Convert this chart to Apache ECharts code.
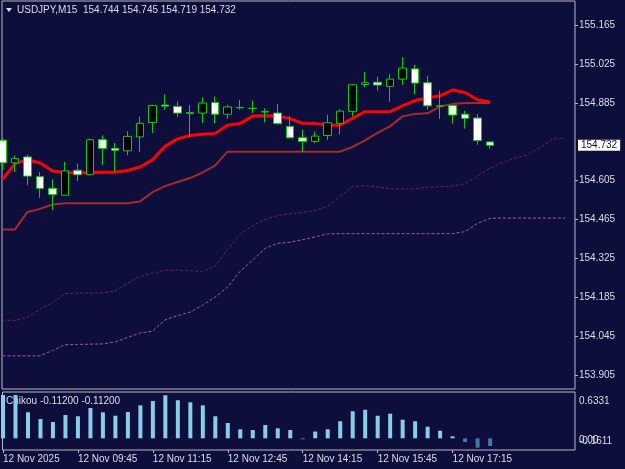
<!DOCTYPE html>
<html>
<head>
<meta charset="utf-8">
<title>USDJPY,M15</title>
<script src="https://cdn.jsdelivr.net/npm/echarts@6/dist/echarts.min.js"></script>
<style>
  html, body { margin: 0; padding: 0; background: #0e0e3c; }
  #chart { width: 625px; height: 469px; }
</style>
</head>
<body>
<div id="chart"></div>
<script>
const symbol = 'USDJPY,M15'
const timeLabels = ['12 Nov 2025', '12 Nov 09:45', '12 Nov 11:15', '12 Nov 12:45', '12 Nov 14:15', '12 Nov 15:45', '12 Nov 17:15']
const timeLabelIdx = [0, 6, 12, 18, 24, 30, 36]
const priceTicks = [153.905, 154.045, 154.185, 154.325, 154.465, 154.605, 154.885, 155.025, 155.165]

// candles, one per 15 minutes
const opens = [154.750, 154.669, 154.690, 154.619, 154.577, 154.552, 154.642, 154.626, 154.752, 154.721,
  154.712, 154.762, 154.814, 154.877, 154.872, 154.849, 154.848, 154.886, 154.844, 154.868,
  154.865, 154.853, 154.848, 154.800, 154.759, 154.746, 154.767, 154.811, 154.854, 154.951,
  154.959, 154.944, 154.970, 155.007, 154.957, 154.873, 154.875, 154.844, 154.830, 154.744]
const highs = [154.758, 154.695, 154.698, 154.636, 154.609, 154.672, 154.666, 154.756, 154.768, 154.740,
  154.783, 154.835, 154.878, 154.915, 154.890, 154.877, 154.904, 154.908, 154.878, 154.896,
  154.893, 154.865, 154.881, 154.836, 154.788, 154.781, 154.842, 154.862, 154.952, 154.996,
  154.979, 154.989, 155.049, 155.021, 154.982, 154.929, 154.876, 154.856, 154.844, 154.745]
const lows = [154.642, 154.636, 154.588, 154.543, 154.498, 154.551, 154.603, 154.623, 154.660, 154.636,
  154.696, 154.708, 154.776, 154.860, 154.834, 154.760, 154.812, 154.810, 154.827, 154.860,
  154.848, 154.814, 154.806, 154.757, 154.708, 154.740, 154.751, 154.771, 154.836, 154.941,
  154.929, 154.888, 154.950, 154.916, 154.860, 154.827, 154.810, 154.792, 154.734, 154.719]
const closes = [154.669, 154.684, 154.621, 154.577, 154.555, 154.640, 154.626, 154.752, 154.721, 154.714,
  154.764, 154.811, 154.875, 154.873, 154.848, 154.847, 154.884, 154.844, 154.870, 154.867,
  154.864, 154.852, 154.810, 154.759, 154.746, 154.765, 154.813, 154.855, 154.950, 154.957,
  154.949, 154.970, 155.010, 154.956, 154.874, 154.874, 154.841, 154.829, 154.749, 154.732]

const tenkan = [154.609, 154.666, 154.680, 154.668, 154.639, 154.633, 154.633, 154.633, 154.635, 154.635,
  154.641, 154.654, 154.680, 154.728, 154.755, 154.767, 154.772, 154.774, 154.804, 154.810,
  154.837, 154.838, 154.837, 154.828, 154.811, 154.810, 154.805, 154.804, 154.829, 154.853,
  154.853, 154.853, 154.874, 154.893, 154.902, 154.910, 154.931, 154.922, 154.896, 154.888]
const kijun = [154.429, 154.429, 154.492, 154.503, 154.519, 154.523, 154.523, 154.523, 154.523, 154.523,
  154.523, 154.530, 154.563, 154.585, 154.600, 154.614, 154.634, 154.659, 154.709, 154.709,
  154.709, 154.709, 154.709, 154.709, 154.709, 154.709, 154.709, 154.709, 154.726, 154.750,
  154.777, 154.800, 154.836, 154.845, 154.847, 154.871, 154.881, 154.884, 154.884, 154.884]
const spanA = [154.103, 154.101, 154.113, 154.142, 154.164, 154.198, 154.200, 154.200, 154.201, 154.208,
  154.235, 154.260, 154.271, 154.282, 154.282, 154.280, 154.278, 154.296, 154.357, 154.411,
  154.443, 154.465, 154.479, 154.485, 154.490, 154.497, 154.512, 154.548, 154.583, 154.586,
  154.582, 154.575, 154.575, 154.575, 154.581, 154.583, 154.585, 154.594, 154.621, 154.650,
  154.670, 154.686, 154.698, 154.724, 154.754, 154.758]
const spanB = [153.974, 153.974, 153.974, 153.974, 153.993, 154.014, 154.015, 154.016, 154.017, 154.024,
  154.040, 154.056, 154.063, 154.103, 154.119, 154.131, 154.156, 154.185, 154.221, 154.278,
  154.318, 154.361, 154.379, 154.383, 154.392, 154.402, 154.413, 154.414, 154.414, 154.414,
  154.414, 154.414, 154.414, 154.414, 154.414, 154.414, 154.414, 154.421, 154.451, 154.469,
  154.470, 154.470, 154.470, 154.470, 154.470, 154.470]

const chikou = [0.6331, 0.633, 0.380, 0.282, 0.238, 0.341, 0.322, 0.443, 0.380, 0.330,
  0.385, 0.482, 0.545, 0.629, 0.556, 0.526, 0.482, 0.322, 0.224, 0.132,
  0.121, 0.194, 0.146, 0.121, -0.015, 0.099, 0.132, 0.249, 0.395, 0.418,
  0.330, 0.360, 0.272, 0.249, 0.170, 0.111, 0.029, -0.054, -0.137, -0.112]
const chikouTicks = [0.6331, 0.00, -0.1611]

const FONT = 'Liberation Sans'
const TXT = '#dcdce4'
const FRAME = '#b8b8c4'

const chart = echarts.init(document.getElementById('chart'))

const idx = (arr) => arr.map((v, i) => [i, v])
const last = closes.length - 1

chart.setOption({
  animation: false,
  backgroundColor: '#0e0e3c',
  grid: [
    { left: 2, top: 1, right: 50, height: 388, show: true, borderColor: FRAME, borderWidth: 1 },
    { left: 2, top: 392, right: 50, height: 58, show: true, borderColor: FRAME, borderWidth: 1 }
  ],
  xAxis: [
    { type: 'value', gridIndex: 0, min: -0.04, max: 45.8, show: false },
    {
      type: 'value', gridIndex: 1, min: -0.04, max: 45.8, position: 'bottom',
      axisLine: { show: false, onZero: false },
      splitLine: { show: false },
      axisTick: { show: true, length: 3, customValues: timeLabelIdx, lineStyle: { color: FRAME } },
      axisLabel: {
        customValues: timeLabelIdx,
        formatter: (v) => timeLabels[timeLabelIdx.indexOf(Math.round(v))] || '',
        align: 'left', margin: 4, color: TXT, fontFamily: FONT, fontSize: 10
      }
    }
  ],
  yAxis: [
    {
      type: 'value', gridIndex: 0, position: 'right', min: 153.8546, max: 155.2514,
      axisLine: { show: false, onZero: false },
      splitLine: { show: false },
      axisTick: { show: true, length: 3, customValues: priceTicks, lineStyle: { color: FRAME } },
      axisLabel: {
        customValues: priceTicks, formatter: (v) => v.toFixed(3),
        margin: 4, color: TXT, fontFamily: FONT, fontSize: 10
      }
    },
    {
      type: 'value', gridIndex: 1, position: 'right', min: -0.171, max: 0.677,
      axisLine: { show: false, onZero: false }, splitLine: { show: false },
      axisTick: { show: false }, axisLabel: { show: false }
    }
  ],
  series: [
    {
      name: 'SpanB', type: 'line', xAxisIndex: 0, yAxisIndex: 0, data: idx(spanB),
      symbol: 'none', lineStyle: { color: '#a05aac', width: 1, type: [3, 2] }, z: 2
    },
    {
      name: 'SpanA', type: 'line', xAxisIndex: 0, yAxisIndex: 0, data: idx(spanA),
      symbol: 'none', lineStyle: { color: '#68206c', width: 1, type: [3, 2] }, z: 2
    },
    {
      name: 'Kijun', type: 'line', xAxisIndex: 0, yAxisIndex: 0, data: idx(kijun),
      symbol: 'none', lineStyle: { color: '#a52a2a', width: 2 }, z: 3
    },
    {
      name: 'Tenkan', type: 'line', xAxisIndex: 0, yAxisIndex: 0, data: idx(tenkan),
      symbol: 'none', lineStyle: { color: '#ff0000', width: 3 }, z: 3
    },
    {
      name: symbol, type: 'candlestick', xAxisIndex: 0, yAxisIndex: 0, clip: false,
      barWidth: 8,
      data: opens.map((o, i) => [i, o, closes[i], lows[i], highs[i]]),
      itemStyle: { color: '#000000', color0: '#ffffff', borderColor: '#00d200', borderColor0: '#00d200', borderWidth: 1 },
      z: 5
    },
    {
      name: 'Chikou', type: 'bar', xAxisIndex: 1, yAxisIndex: 1, barWidth: 4,
      data: idx(chikou),
      itemStyle: { color: (p) => (p.value[1] < 0 ? '#3f78b0' : '#87ceeb') },
      z: 5
    }
  ]
})

// texts tied to values: title, price tag, sub-window labels
const yLast = chart.convertToPixel({ yAxisIndex: 0 }, closes[last])
const subY = chikouTicks.map((v) => chart.convertToPixel({ yAxisIndex: 1 }, v))
const txt = (text, x, y) => ({
  type: 'text', x, y, z: 1,
  style: { text, fill: TXT, font: '10px "' + FONT + '"', verticalAlign: 'middle' }
})

chart.setOption({
  graphic: [
    { type: 'polygon', shape: { points: [[6, 8], [12, 8], [9, 12]] }, style: { fill: TXT } },
    txt(symbol + '  ' + [opens[last], highs[last], lows[last], closes[last]].map((v) => v.toFixed(3)).join(' '), 17, 10),
    txt('Chikou ' + chikou[last].toFixed(5) + ' ' + chikou[last].toFixed(5), 6, 401),
    {
      type: 'text', x: 578, y: yLast, z: 10,
      style: {
        text: closes[last].toFixed(3), fill: '#0e0e3c', font: '10px "' + FONT + '"', verticalAlign: 'middle',
        backgroundColor: '#ffffff', padding: [1, 3, 0, 3]
      }
    },
    txt(chikouTicks[0].toFixed(4), 579, subY[0] + 6),
    txt(chikouTicks[1].toFixed(2), 579, subY[1] + 2),
    txt(chikouTicks[2].toFixed(4), 579, subY[2] - 8)
  ]
})
</script>
</body>
</html>
